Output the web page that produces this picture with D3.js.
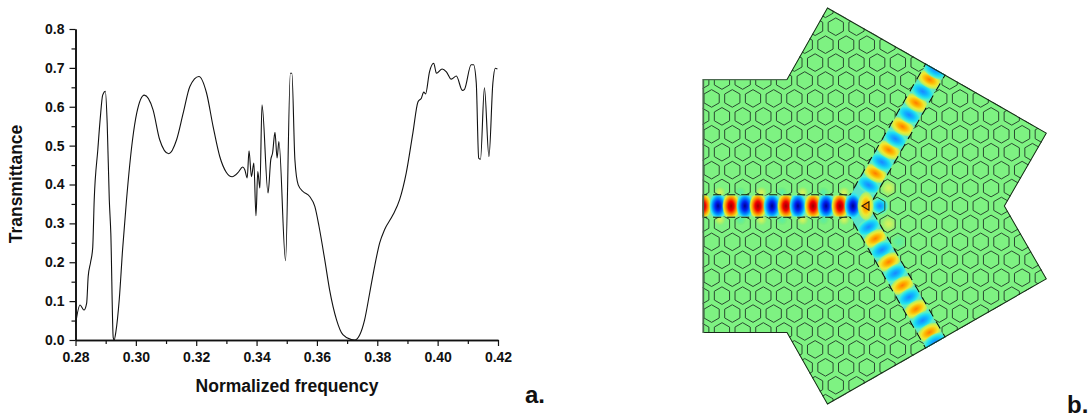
<!DOCTYPE html>
<html lang="en">
<head>
<meta charset="UTF-8">
<title>Transmittance and field map</title>
<script src="https://cdn.jsdelivr.net/npm/d3@7"></script>
<style>
  html, body { margin: 0; padding: 0; background: #fff; overflow: hidden; }
  text { font-family: "Liberation Sans", Arial, sans-serif; font-weight: bold; fill: #111; }
</style>
</head>
<body>
<div id="chart"></div>
<script>
// panel a: transmittance
const freq = [.28, .2815, .2828, .2837, .2842, .285, .2857, .2862, .2874, .2882, .289, .2899, .2905, .2912, .2917, .2925, .2928, .2934, .2945, .2956, .2969, .2989, .3003, .3028, .3057, .3079, .3109, .3135, .3157, .3179, .3209, .3234, .3256, .3278, .33, .3319, .3339, .3354, .3361, .3369, .3375, .3383, .3391, .3398, .3404, .3411, .3418, .3438, .3447, .3453, .3461, .3468, .3474, .3496, .3512, .3517, .3527, .3538, .3554, .3576, .3593, .3607, .3626, .3642, .3665, .3686, .3714, .3725, .3742, .3758, .3775, .3791, .3808, .3824, .3852, .3874, .3896, .3918, .3935, .3946, .3954, .396, .3973, .3987, .3996, .4015, .4029, .4045, .4062, .4082, .4089, .4111, .4119, .4128, .4136, .4142, .4155, .417, .4183, .4191, .4198];
const trans = [.04, .09, .077, .095, .163, .2, .237, .36, .49, .57, .63, .64, .558, .36, .275, .006, 0, .022, .104, .232, .36, .515, .584, .63, .592, .515, .479, .515, .584, .652, .678, .636, .549, .472, .431, .42, .431, .445, .438, .417, .487, .42, .455, .3195, .433, .391, .605, .378, .4635, .481, .534, .468, .5105, .204, .686, .686, .4635, .399, .382, .369, .3435, .292, .206, .129, .052, .0136, .001, 0, .0136, .052, .1216, .189, .25, .2835, .322, .361, .43, .533, .613, .622, .6375, .633, .69, .712, .686, .697, .69, .671, .679, .642, .645, .708, .708, .661, .468, .465, .649, .472, .661, .699, .697];
const xMajor = [.28, .30, .32, .34, .36, .38, .40, .42];
const xMinor = [.29, .31, .33, .35, .37, .39, .41];
const yMajor = [0, .1, .2, .3, .4, .5, .6, .7, .8];
const yMinor = [.05, .15, .25, .35, .45, .55, .65, .75];

// panel b, everything in lattice periods measured from the Y junction
const outlineX = [-7.43, -3.37, -1.41, 9.2, 7.17, 9.2, -1.41, -3.37, -7.43];
const outlineY = [-6.135, -6.135, -9.6, -3.53, 0, 3.53, 9.6, 6.135, 6.135];
const guideX = [-7.43, -6.69, -6.06, -5.39, -4.76, -4.08, -3.41, -2.83, -2.1, -1.47, -.8, -.17, .46];
const guideKind = ["r", "b", "r", "b", "r", "b", "r", "b", "r", "b", "r", "b", "o"];
const armT = [1.17, 1.82, 2.45, 3.12, 3.75, 4.43, 5.08, 5.75, 6.39, 7.05, 7.6];
const armKind = ["c", "o", "c", "o", "c", "o", "c", "o", "c", "o", "c"];
const haloX = [1.13, 1.55, 1.55, 2.05, -.6, -1.6, -2.6, -3.6, -4.6, -5.6, -6.6, -.6, -1.6, -2.6, -3.6, -4.6, -5.6, -6.6];
const haloY = [0, -.87, .87, 1.73, -.66, -.66, -.66, -.66, -.66, -.66, -.66, .66, .66, .66, .66, .66, .66, .66];
const haloKind = ["c", "y", "y", "t", "y", "t", "y", "t", "y", "t", "y", "y", "t", "y", "t", "y", "t", "y"];
const haloR = [9, 9, 9, 9, 6, 6, 6, 6, 6, 6, 6, 6, 6, 6, 6, 6, 6, 6];
const markerX = [.27, .6, .6];
const markerY = [0, -.2, .2];
const rows = d3.range(-12, 13);
const cols = d3.range(-18, 19);

const svg = d3.select("#chart").append("svg")
    .attr("width", 1090)
    .attr("height", 417);

// ---- panel a ----
const x = d3.scaleLinear().domain([.28, .42]).range([75.5, 498]);
const y = d3.scaleLinear().domain([0, .8]).range([340, 29]);

function styleAxis(g, size) {
  g.selectAll("path").attr("stroke", "#111").attr("stroke-width", 1.6);
  g.selectAll("line").attr("stroke", "#111").attr("stroke-width", 1.2);
  g.selectAll("text").style("font-size", size + "px");
}

svg.append("g").attr("transform", "translate(0,340)")
  .call(d3.axisBottom(x).tickValues(xMinor).tickSize(4).tickSizeOuter(0).tickFormat(""))
  .call(styleAxis, 14);
svg.append("g").attr("transform", "translate(0,340)")
  .call(d3.axisBottom(x).tickValues(xMajor).tickSize(6).tickSizeOuter(0).tickPadding(6).tickFormat(d3.format(".2f")))
  .call(styleAxis, 14);
svg.append("g").attr("transform", "translate(75.5,0)")
  .call(d3.axisLeft(y).tickValues(yMinor).tickSize(4).tickSizeOuter(0).tickFormat(""))
  .call(styleAxis, 14);
svg.append("g").attr("transform", "translate(75.5,0)")
  .call(d3.axisLeft(y).tickValues(yMajor).tickSize(6).tickSizeOuter(0).tickPadding(5).tickFormat(d3.format(".1f")))
  .call(styleAxis, 14);

svg.append("path")
  .datum(freq.map((f, i) => [f, trans[i]]))
  .attr("fill", "none")
  .attr("stroke", "#111")
  .attr("stroke-width", 1.1)
  .attr("d", d3.line().x(d => x(d[0])).y(d => y(d[1])).curve(d3.curveMonotoneX));

svg.append("text").attr("x", 287).attr("y", 392).attr("text-anchor", "middle")
  .style("font-size", "17.5px").text("Normalized frequency");
svg.append("text").attr("transform", "translate(22,184) rotate(-90)").attr("text-anchor", "middle")
  .style("font-size", "17.5px").text("Transmittance");
svg.append("text").attr("x", 525).attr("y", 403).style("font-size", "24px").text("a.");
svg.append("text").attr("x", 1067).attr("y", 413).style("font-size", "24px").text("b.");

// ---- panel b ----
const bx = d3.scaleLinear().domain([0, 1]).range([856.5, 877.2]);
const by = d3.scaleLinear().domain([0, 1]).range([206, 226.7]);
const rowH = Math.sqrt(3) / 2;
const hexR = 8.8 / 20.7;
const line = d3.line().x(d => bx(d[0])).y(d => by(d[1]));
const outline = outlineX.map((v, i) => [v, outlineY[i]]);

const defs = svg.append("defs");
defs.append("clipPath").attr("id", "plate").append("path").attr("d", line(outline) + "Z");

const spotStops = {
  r: ["#9c0000", "#f20000", "#ff9000", "#e4f02a"],
  b: ["#00008c", "#0022f0", "#0090ff", "#30e8f0"],
  o: ["#ff7c00", "#ffb400", "#f0e830", "#b8f060"],
  c: ["#1c86ff", "#10b4ff", "#20e0f0", "#60f0c0"],
  y: ["#d8f25a", "#c0f262", "#a4f06c", "#8cf078"],
  t: ["#5ceca4", "#64ee98", "#6eee8c", "#78f080"]
};
Object.keys(spotStops).forEach(k => {
  const g = defs.append("radialGradient").attr("id", "spot-" + k);
  spotStops[k].forEach((c, i) => g.append("stop").attr("offset", [0, .32, .6, .82][i]).attr("stop-color", c));
  g.append("stop").attr("offset", 1).attr("stop-color", spotStops[k][3]).attr("stop-opacity", 0);
});

const plate = svg.append("g").attr("clip-path", "url(#plate)");
plate.append("path").attr("d", line(outline) + "Z").attr("fill", "#7ef282");

// weak field that leaks out next to the guide, under the rings
const spot = (parent, px, py, rot, kind, rl, rt) => parent.append("ellipse")
  .attr("transform", `translate(${bx(px)},${by(py)}) rotate(${rot})`)
  .attr("rx", rl).attr("ry", rt)
  .attr("fill", `url(#spot-${kind})`);
haloX.forEach((hx, i) => spot(plate, hx, haloY[i], 0, haloKind[i], haloR[i], haloR[i]));

// guide band pieces
const armDir = [.5, rowH];
const armEnd = 8.2;
const bandPieces = [
  [[-7.6, 0], [.1, 0]],
  [[0, 0], [armDir[0] * armEnd, -armDir[1] * armEnd]],
  [[0, 0], [armDir[0] * armEnd, armDir[1] * armEnd]]
];

// hexagon rings, the cells on the guide are left out
const isGuide = (k, q) => {
  const px = q + k / 2;
  if (k === 0) return px <= 0;
  return Math.abs(px - Math.abs(k) / 2) < .01;
};
const hexes = [];
rows.forEach(k => cols.forEach(q => {
  if (!isGuide(k, q)) hexes.push([q + k / 2, k * rowH]);
}));
plate.selectAll(".hex").data(hexes).enter().append("path")
  .attr("class", "hex")
  .attr("fill", "none")
  .attr("stroke", "#2a4a30")
  .attr("stroke-width", 1)
  .attr("d", d => line(d3.range(6).map(i => {
    const a = Math.PI / 6 + i * Math.PI / 3;
    return [d[0] + hexR * Math.cos(a), d[1] + hexR * Math.sin(a)];
  })) + "Z");

// dark broken edge of the guide, then the band itself
bandPieces.forEach(p => plate.append("path").attr("d", line(p))
  .attr("fill", "none").attr("stroke", "#10200f")
  .attr("stroke-width", 23.5).attr("stroke-dasharray", "8 6"));
bandPieces.forEach((p, i) => plate.append("path").attr("d", line(p))
  .attr("fill", "none").attr("stroke", i === 0 ? "#8ae8a0" : "#58e4cc")
  .attr("stroke-width", 21));

// spots stay inside the band
const bandClip = defs.append("clipPath").attr("id", "band");
bandPieces.forEach(p => {
  const [a, b] = p;
  const len = Math.hypot(b[0] - a[0], b[1] - a[1]) * 20.7;
  const rot = Math.atan2(b[1] - a[1], b[0] - a[0]) * 180 / Math.PI;
  bandClip.append("rect")
    .attr("transform", `translate(${bx(a[0])},${by(a[1])}) rotate(${rot})`)
    .attr("x", 0).attr("y", -10.5).attr("width", len).attr("height", 21);
});
const field = plate.append("g").attr("clip-path", "url(#band)");

[-1, 1].forEach(s => armT.forEach((t, i) => {
  spot(field, t * armDir[0], s * t * armDir[1], s * 60, armKind[i], 8.5, 15);
}));
guideX.forEach((gx, i) => spot(field, gx, 0, 0, guideKind[i], 9, 14));
// the bright spot in the junction pokes out of the band
spot(plate, guideX[12], 0, 0, "o", 8, 15);

// small triangular cell in the junction
plate.append("path")
  .attr("d", line(markerX.map((v, i) => [v, markerY[i]])) + "Z")
  .attr("fill", "none").attr("stroke", "#301808").attr("stroke-width", 1.2);

plate.append("path").attr("d", line(outline) + "Z")
  .attr("fill", "none").attr("stroke", "#1a2a1a").attr("stroke-width", 2);
plate.append("path").attr("d", line([outline[8], outline[0]]))
  .attr("fill", "none").attr("stroke", "#4c6a50").attr("stroke-width", 3);
plate.append("path").attr("d", line([outline[0], outline[1]]))
  .attr("fill", "none").attr("stroke", "#4c6a50").attr("stroke-width", 2.4);
</script>
</body>
</html>
